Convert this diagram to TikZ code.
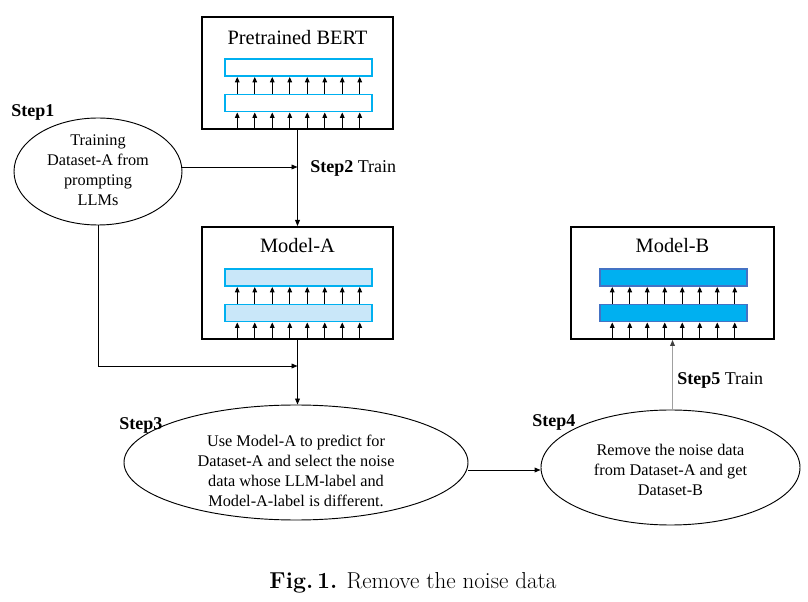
\documentclass[tikz,border=0pt]{standalone}
\usepackage{fontspec}
\newfontfamily\tnr{Liberation Serif}
\usetikzlibrary{arrows.meta,shapes.geometric,calc}
\newdimen\pxu \pxu=0.75pt
\definecolor{barcyan}{HTML}{00B0F0}
\definecolor{barlight}{HTML}{C9E7F9}
\definecolor{barblue}{HTML}{4472C4}
\definecolor{stepgray}{HTML}{A0A0A0}
\newcommand{\drawlayers}[3]{%
  \node[barbox, fill=#2, draw=#3] (#1-b1) at ($(#1.north)+(1,51.5)$) {};
  \node[barbox, fill=#2, draw=#3] (#1-b2) at ($(#1.north)+(1,87)$) {};
  \foreach \i in {0,...,7} {
    \coordinate (#1-u\i) at ($(#1-b2.south)+(-61.25+17.5*\i,0)$);
    \coordinate (#1-v\i) at ($(#1-b1.south)+(-61.25+17.5*\i,0)$);
    \draw[inarrow] (#1-u\i |- #1.south) -- (#1-u\i);
    \draw[inarrow] (#1-v\i |- #1-b2.north) -- (#1-v\i);
  }
}
\begin{document}
\begin{tikzpicture}[x=0.75pt,y=-0.75pt,
  font=\tnr,
  modelbox/.style={draw, line width=1.5pt, minimum width=191\pxu, minimum height=112\pxu, inner sep=0pt},
  barbox/.style={line width=1.4pt, minimum width=147\pxu, minimum height=17\pxu, inner sep=0pt},
  inarrow/.style={line width=0.75pt, -{Triangle[length=4pt,width=3.4pt]}},
  conn/.style={line width=0.7pt, -{Triangle[length=4.5pt,width=3.6pt]}},
  plain/.style={line width=0.7pt},
  stepell/.style={draw, ellipse, line width=0.7pt, inner sep=0pt},
  title/.style={font=\tnr\fontsize{15.3}{18}\selectfont},
  elltext/.style={align=center, font=\tnr\fontsize{12.2}{15}\selectfont, inner sep=0pt},
  steplab/.style={anchor=west, inner sep=0pt, font=\tnr\fontsize{13.5}{16}\selectfont}
]
\useasboundingbox (0,0) rectangle (808,602);

% model boxes
\node[modelbox] (bert) at (297.5,73) {};
\node[modelbox] (modela) at (297.5,283) {};
\node[modelbox, minimum width=203\pxu] (modelb) at (672.5,283) {};
\node[title] (bertt) at ($(bert.north)+(0,22)$) {Pretrained BERT};
\node[title] (modelat) at ($(modela.north)+(0,20)$) {Model-A};
\node[title] (modelbt) at ($(modelb.north)+(0,20)$) {Model-B};
\drawlayers{bert}{white}{barcyan}
\drawlayers{modela}{barlight}{barcyan}
\drawlayers{modelb}{barcyan}{barblue}

% step ellipses
\node[stepell, minimum width=168\pxu, minimum height=107\pxu] (s1) at (98,171.5) {};
\node[elltext] (s1t) at (98,170) {Training\\Dataset-A from\\prompting\\LLMs};
\node[stepell, minimum width=344\pxu, minimum height=115\pxu] (s3) at (296,462.5) {};
\node[elltext] (s3t) at (296,471) {Use Model-A to predict for\\Dataset-A and select the noise\\data whose LLM-label and\\Model-A-label is different.};
\node[stepell, minimum width=259\pxu, minimum height=115\pxu] (s4) at (670.5,467.5) {};
\node[elltext] (s4t) at (670.5,470) {Remove the noise data\\from Dataset-A and get\\Dataset-B};

% labels
\node[steplab] (l1) at (11,112) {\bfseries Step1};
\node[steplab] (l2) at (310,168) {\textbf{Step2} Train};
\node[steplab] (l3) at (119,425) {\bfseries Step3};
\node[steplab] (l4) at (532,422) {\bfseries Step4};
\node[steplab] (l5) at (677,380) {\textbf{Step5} Train};

% connectors
\coordinate (s1out) at ($(s1.east)+(0,-4.5)$);
\coordinate (join) at ($(modela.south)+(0,26)$);
\coordinate (s3out) at ($(s3.east)+(-0.3,7.5)$);
\draw[conn] (bert.south) -- (modela.north);
\draw[conn] (s1out) -- (bert.south |- s1out);
\draw[plain] (s1.south) -- (s1.south |- join);
\draw[conn] (s1.south |- join) -- (join);
\draw[conn] (modela.south) -- (modela.south |- s3.north);
\draw[conn] (s3out) -- (s4.west |- s3out);
\draw[line width=0.7pt, draw=stepgray, -{Triangle[length=4.5pt,width=3.6pt,color=black!75]}] (modelb.south |- s4.north) -- (modelb.south);

% caption
\node[font=\fontsize{17.3}{20}\selectfont] (cap) at (413,583) {\textbf{Fig.\,1.} Remove the noise data};
\end{tikzpicture}
\end{document}
